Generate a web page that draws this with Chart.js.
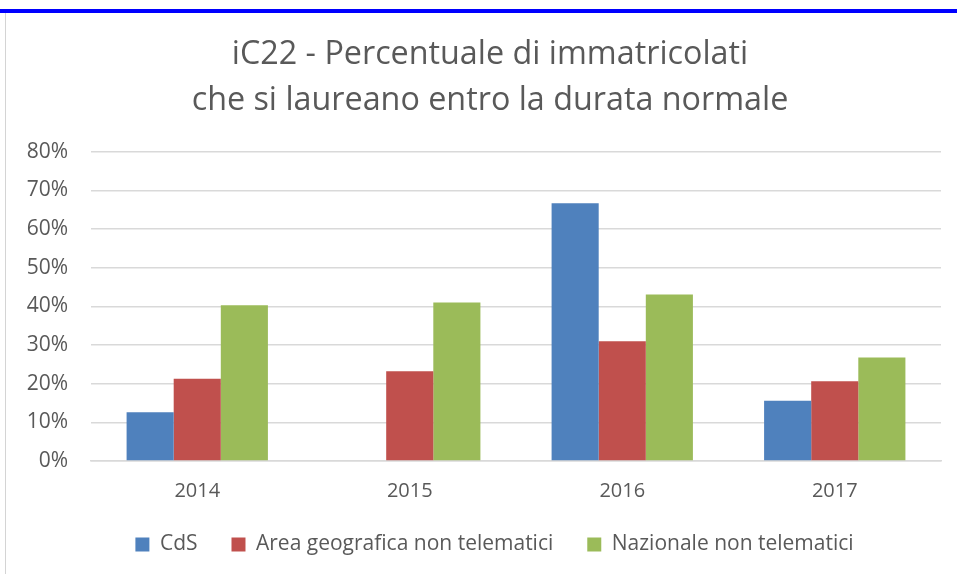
<!DOCTYPE html>
<html>
<head>
<meta charset="utf-8">
<script src="https://cdn.jsdelivr.net/npm/chart.js@4/dist/chart.umd.min.js"></script>
<style>
  html, body { margin: 0; padding: 0; background: #ffffff; }
  #wrap { position: relative; width: 957px; height: 574px; overflow: hidden; }
  #topline { position: absolute; left: 0; top: 9px; width: 957px; height: 4px; background: #0000ff; }
  #leftline { position: absolute; left: 5px; top: 13px; width: 1px; height: 561px; background: #d4d4d4; }
  #c { position: absolute; left: 0; top: 0; }
</style>
</head>
<body>
<div id="wrap">
  <div id="topline"></div>
  <div id="leftline"></div>
  <canvas id="c" width="957" height="574"></canvas>
</div>
<script>
const titleLines = ["iC22 - Percentuale di immatricolati", "che si laureano entro la durata normale"];
const categories = ["2014", "2015", "2016", "2017"];
const seriesNames = ["CdS", "Area geografica non telematici", "Nazionale non telematici"];
const cdsValues = [12.6, null, 66.7, 15.6];
const areaValues = [21.3, 23.2, 31.0, 20.6];
const nazionaleValues = [40.3, 41.0, 43.1, 26.8];
const yTickValues = [0, 10, 20, 30, 40, 50, 60, 70, 80];
const colors = ["#4F81BD", "#C0504D", "#9BBB59"];

const FONT = "'Open Sans', 'Liberation Sans', sans-serif";
const TEXT = "#595959";
const LEGEND_GAP = 34;
const LEGEND_ITEM_OFFSET = 13;
const LEGEND_HEIGHT = 48;
const LEGEND_SHIFT_X = 38;
const TITLE_SHIFT_X = 29;

const boxTweak = {
  id: 'boxTweak',
  beforeInit(chart) {
    const lg = chart.legend;
    if (lg) {
      const origFit = lg.fit.bind(lg);
      lg.fit = function () {
        origFit();
        this.height = LEGEND_HEIGHT;
      };
      const origDraw = lg.draw.bind(lg);
      lg.draw = function () {
        const t = this.top, l = this.left;
        this.top = t - (LEGEND_GAP - LEGEND_ITEM_OFFSET);
        this.left = l + LEGEND_SHIFT_X;
        origDraw();
        this.top = t;
        this.left = l;
      };
    }
    const tt = chart.titleBlock;
    if (tt) {
      const origDrawT = tt.draw.bind(tt);
      tt.draw = function () {
        const l = this.left;
        this.left = l + TITLE_SHIFT_X;
        origDrawT();
        this.left = l;
      };
    }
  }
};

const datasets = [cdsValues, areaValues, nazionaleValues].map((vals, i) => ({
  label: seriesNames[i],
  data: vals,
  backgroundColor: colors[i],
  borderWidth: 0,
  categoryPercentage: 0.665,
  barPercentage: 1.0
}));

new Chart(document.getElementById('c'), {
  type: 'bar',
  data: { labels: categories, datasets },
  plugins: [boxTweak],
  options: {
    responsive: false,
    animation: false,
    layout: { padding: { left: 10, right: 16, top: 0, bottom: 5 } },
    plugins: {
      title: {
        display: true,
        text: titleLines,
        color: TEXT,
        font: { family: FONT, size: 32.3, weight: 'normal', lineHeight: 1.42 },
        padding: { top: 32, bottom: 28 }
      },
      legend: {
        position: 'bottom',
        labels: {
          color: TEXT,
          font: { family: FONT, size: 21 },
          boxWidth: 14,
          boxHeight: 14,
          padding: LEGEND_GAP
        }
      },
      tooltip: { enabled: false }
    },
    scales: {
      x: {
        grid: { display: false, drawTicks: false },
        border: { display: true, color: '#d9d9d9', width: 1.5 },
        ticks: { color: TEXT, font: { family: FONT, size: 20 }, padding: 18 }
      },
      y: {
        min: 0,
        max: 80,
        afterFit(scale) { scale.width = 81; },
        afterBuildTicks(scale) { scale.ticks = yTickValues.map(v => ({ value: v })); },
        grid: { color: '#d9d9d9', lineWidth: 1.5, drawTicks: false },
        border: { display: false },
        ticks: {
          color: TEXT,
          font: { family: FONT, size: 21 },
          padding: 23,
          callback: v => v + '%'
        }
      }
    }
  }
});
</script>
</body>
</html>
